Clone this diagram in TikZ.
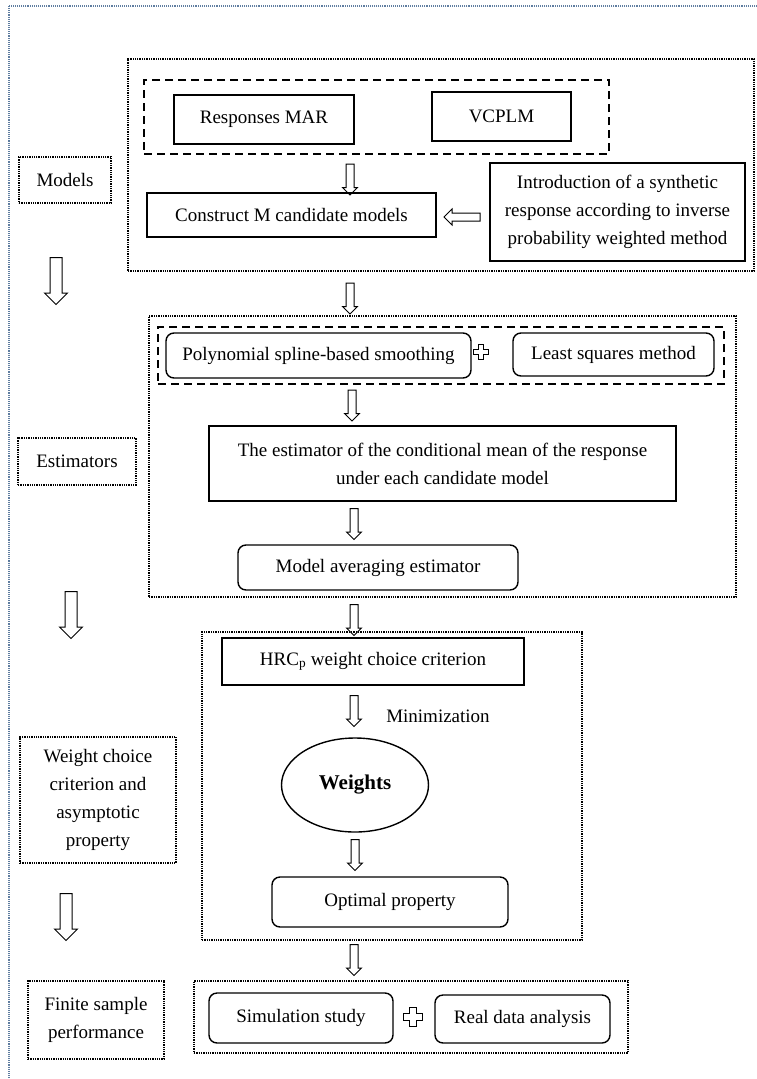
\documentclass[tikz,border=0pt]{standalone}
\usepackage{fontspec}
\setmainfont{Liberation Serif}
\usetikzlibrary{shapes.geometric,shapes.arrows,calc}
\definecolor{framegray}{RGB}{95,125,160}
\tikzset{plusmark/.pic={
  \draw[line width=1pt, fill=white] (-1,-3) -- (1,-3) -- (1,-1) -- (3,-1) -- (3,1) -- (1,1)
    -- (1,3) -- (-1,3) -- (-1,1) -- (-3,1) -- (-3,-1) -- (-1,-1) -- cycle;}}
\begin{document}
\begin{tikzpicture}[x=1pt, y=-1pt,
  txt/.style={font=\fontsize{19}{28}\selectfont, align=center, inner sep=0pt},
  box/.style={txt, draw, line width=1.4pt},
  rbox/.style={box, rounded corners=8pt},
  lbl/.style={txt, draw, densely dotted, line width=1.3pt},
  group/.style={draw, densely dotted, line width=1.3pt, inner sep=0pt},
  dgroup/.style={draw, dash pattern=on 8pt off 5pt, line width=1.5pt, inner sep=0pt},
  darr/.style={draw, line width=1pt, single arrow, shape border rotate=270,
               single arrow head extend=3.5pt, inner sep=3.5pt, minimum height=31pt},
  bigarr/.style={darr, inner sep=5.5pt, single arrow head extend=5.5pt, minimum height=47pt},
]
\useasboundingbox (0,0) rectangle (756,1079);
% outer frame
\draw[framegray, densely dotted, line width=1.1pt] (9,6) rectangle (800,1120);

% left column labels
\node[lbl, minimum width=92pt, minimum height=46pt] (models) at (65,180) {Models};
\node[lbl, minimum width=118pt, minimum height=47pt] (estim) at (77,461.5) {Estimators};
\node[lbl, minimum width=156pt, minimum height=126pt] (wcrit) at (98,800) {Weight choice\\criterion and\\asymptotic\\property};
\node[lbl, minimum width=136pt, minimum height=78pt] (finite) at (96,1020) {Finite sample\\performance};

% left column arrows
\node[bigarr] (la1) at (56,278) {};
\node[bigarr] (la2) at (71,612) {};
\node[bigarr] (la3) at (66,914) {};

% models block
\node[group, minimum width=626pt, minimum height=212pt] (gmod) at (441,165) {};
\node[dgroup, minimum width=465pt, minimum height=74pt] (gdata) at (376.5,117) {};
\node[box, minimum width=180pt, minimum height=49pt] (mar) at (264,119.5) {Responses MAR};
\node[box, minimum width=139pt, minimum height=49pt] (vcplm) at (501.5,116.5) {VCPLM};
\node[box, minimum width=289pt, minimum height=44pt] (cand) at (291.5,215) {Construct M candidate models};
\node[box, minimum width=255pt, minimum height=98pt] (synth) at (617.5,212) {Introduction of a synthetic\\response according to inverse\\probability weighted method};
\node[darr] (a1) at (350,177.5) {};
\node[darr, shape border rotate=180, single arrow head extend=4pt, minimum height=36pt] (a2) at (464,217) {};

\node[darr] (a3) at (350,296.5) {};

% estimators block
\node[group, minimum width=587pt, minimum height=281pt] (gest) at (442.5,456.5) {};
\node[dgroup, minimum width=566pt, minimum height=57pt] (gsmooth) at (441,355.5) {};
\node[rbox, minimum width=305pt, minimum height=45pt] (spline) at (318.5,355.5) {Polynomial spline-based smoothing};
\node[rbox, minimum width=201pt, minimum height=43pt] (lsq) at (613.5,354.5) {Least squares method};
\pic[scale=2.6] at (481,352) {plusmark};
\node[darr] (a4) at (352,403.5) {};
\node[box, minimum width=467pt, minimum height=75pt] (cmean) at (442.5,463.5) {The estimator of the conditional mean of the response\\under each candidate model};
\node[darr] (a5) at (354,522) {};
\node[rbox, minimum width=280pt, minimum height=45pt] (mavg) at (378,567.5) {Model averaging estimator};

\node[darr] (a6) at (354,618) {};

% weight block
\node[group, minimum width=380pt, minimum height=308pt] (gwt) at (392,786) {};
\node[box, minimum width=302pt, minimum height=47pt] (hrc) at (373,661.5) {HRC\textsubscript{p} weight choice criterion};
\node[darr] (a7) at (354,709) {};
\node[txt] (minim) at (438,716) {Minimization};
\node[draw, ellipse, line width=1.4pt, inner sep=0pt, minimum width=147pt, minimum height=94pt,
      font=\fontsize{21}{25}\selectfont\bfseries] (wts) at (355,785) {Weights};
\node[darr] (a8) at (355,853) {};
\node[rbox, minimum width=236pt, minimum height=50pt] (optp) at (390,902) {Optimal property};

\node[darr] (a9) at (354,958) {};

% finite sample block
\node[group, minimum width=434pt, minimum height=72pt] (gfin) at (411,1017) {};
\node[rbox, minimum width=184pt, minimum height=50pt] (simu) at (301,1018) {Simulation study};
\node[rbox, minimum width=175pt, minimum height=48pt] (rdata) at (522.5,1019) {Real data analysis};
\pic[scale=3.2] at (413,1017) {plusmark};

\end{tikzpicture}
\end{document}
